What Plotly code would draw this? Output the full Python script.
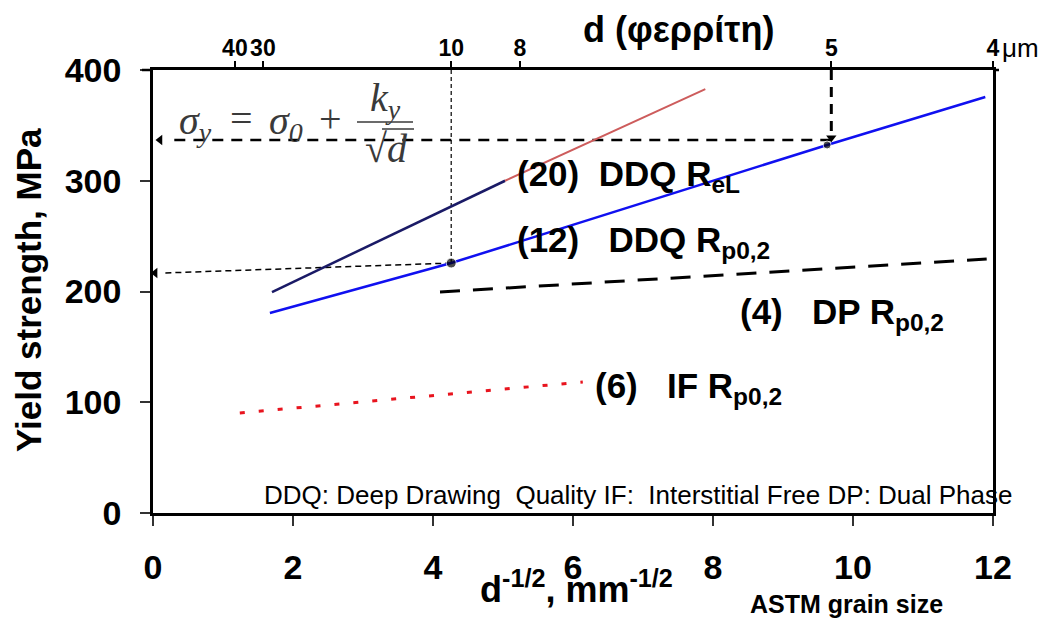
import plotly.graph_objects as go

# ---- data ----
ddq_rel_low_x = [1.70, 5.03]
ddq_rel_low_y = [199.5, 300.0]
ddq_rel_high_x = [5.03, 7.89]
ddq_rel_high_y = [300.0, 382.8]
ddq_rp_x = [1.67, 4.26, 9.63, 11.89]
ddq_rp_y = [180.6, 225.7, 332.3, 375.6]
dp_x = [4.10, 11.91]
dp_y = [199.5, 229.3]
if_x = [1.24, 6.14]
if_y = [90.3, 118.3]
pts_x = [4.26, 9.63]
pts_y = [225.7, 332.3]
pts_size = [10, 8]

x_ticks = [0, 2, 4, 6, 8, 10, 12]
y_ticks = [0, 100, 200, 300, 400]
top_tick_vals = [1.17, 1.57, 4.26, 5.24, 9.69, 12.0]
top_tick_text = ["40", "30", "10", "8", "5", "4"]

# guide lines (read values)
guide_hi_y = 336.8
guide_hi_x0 = 0.10
guide_hi_xv = 9.69
guide_lo_y_end = 216.7
guide_lo_x_end = 0.03

# ---- layout geometry ----
L, R, T, B = 153, 50, 70, 106
W, H = 1043, 619
PW, PH = W - L - R, H - T - B

def px(xp):
    return (xp - L) / PW

def py(yp):
    return (H - B - yp) / PH

FONT = "Liberation Sans, Arial, sans-serif"
SERIF = "Liberation Serif, Times New Roman, serif"

fig = go.Figure()

# dashed guides (drawn first, under lines)
fig.add_trace(go.Scatter(x=[guide_hi_xv, guide_hi_x0 + 0.12], y=[guide_hi_y, guide_hi_y], mode="lines",
                         line=dict(color="black", width=2.5, dash="11px,8px"), hoverinfo="skip"))
fig.add_trace(go.Scatter(x=[guide_hi_xv, guide_hi_xv], y=[400, guide_hi_y + 6], mode="lines",
                         line=dict(color="black", width=3, dash="10px,7px"), hoverinfo="skip"))
fig.add_trace(go.Scatter(x=[pts_x[0], pts_x[0]], y=[400, pts_y[0]], mode="lines",
                         line=dict(color="black", width=1.2, dash="4px,3px"), hoverinfo="skip"))
fig.add_trace(go.Scatter(x=[pts_x[0], guide_lo_x_end + 0.12], y=[pts_y[0], guide_lo_y_end], mode="lines",
                         line=dict(color="black", width=1.5, dash="6px,4px"), hoverinfo="skip"))
# arrow heads
fig.add_trace(go.Scatter(x=[guide_hi_x0, guide_lo_x_end], y=[guide_hi_y, guide_lo_y_end], mode="markers",
                         marker=dict(symbol="triangle-left", size=9, color="black"), hoverinfo="skip"))
fig.add_trace(go.Scatter(x=[guide_hi_xv], y=[guide_hi_y + 2], mode="markers",
                         marker=dict(symbol="triangle-down", size=9, color="black"), hoverinfo="skip"))

# series
fig.add_trace(go.Scatter(x=ddq_rel_low_x, y=ddq_rel_low_y, mode="lines",
                         line=dict(color="#1a1a66", width=2.5)))
fig.add_trace(go.Scatter(x=ddq_rel_high_x, y=ddq_rel_high_y, mode="lines",
                         line=dict(color="#cd5c5c", width=2)))
fig.add_trace(go.Scatter(x=ddq_rp_x, y=ddq_rp_y, mode="lines",
                         line=dict(color="#1010f0", width=2.5)))
fig.add_trace(go.Scatter(x=dp_x, y=dp_y, mode="lines",
                         line=dict(color="black", width=3, dash="20px,13px")))
fig.add_trace(go.Scatter(x=if_x, y=if_y, mode="lines",
                         line=dict(color="#e8141e", width=3, dash="5px,14px")))
fig.add_trace(go.Scatter(x=pts_x, y=pts_y, mode="markers",
                         marker=dict(color="black", size=pts_size)))
# invisible trace on top axis so it renders
fig.add_trace(go.Scatter(x=top_tick_vals, y=[0] * len(top_tick_vals), xaxis="x2", mode="markers",
                         marker=dict(opacity=0), hoverinfo="skip"))

NB = "\u00a0"
ann = []
lab_font = dict(family=FONT, size=35, color="black", weight="bold")
ann.append(dict(x=px(515), y=py(176), xref="paper", yref="paper", text="(20)" + NB * 2 + "DDQ R<sub>eL</sub>",
                showarrow=False, xanchor="left", yanchor="middle", font=lab_font))
ann.append(dict(x=px(515), y=py(242), xref="paper", yref="paper", text="(12)" + NB * 3 + "DDQ R<sub>p0,2</sub>",
                showarrow=False, xanchor="left", yanchor="middle", font=lab_font))
ann.append(dict(x=px(738), y=py(314), xref="paper", yref="paper", text="(4)" + NB * 3 + "DP R<sub>p0,2</sub>",
                showarrow=False, xanchor="left", yanchor="middle", font=lab_font))
ann.append(dict(x=px(593), y=py(388), xref="paper", yref="paper", text="(6)" + NB * 3 + "IF R<sub>p0,2</sub>",
                showarrow=False, xanchor="left", yanchor="middle", font=lab_font))

ann.append(dict(x=px(262), y=py(495), xref="paper", yref="paper",
                text="DDQ: Deep Drawing" + NB * 2 + "Quality IF:" + NB * 2 + "Interstitial Free DP: Dual Phase",
                showarrow=False, xanchor="left", yanchor="middle",
                font=dict(family=FONT, size=26, color="black")))

# equation
eq_col = "#3a3a3a"
eq_it = dict(family=SERIF, size=40, color=eq_col, style="italic")
eq_up = dict(family=SERIF, size=40, color=eq_col)
ann.append(dict(x=px(177), y=py(123), xref="paper", yref="paper",
                text="σ<sub>y</sub>", showarrow=False, xanchor="left", yanchor="middle", font=eq_it))
ann.append(dict(x=px(241), y=py(118), xref="paper", yref="paper",
                text="=", showarrow=False, xanchor="center", yanchor="middle", font=eq_up))
ann.append(dict(x=px(267), y=py(123), xref="paper", yref="paper",
                text="σ<sub>0</sub>", showarrow=False, xanchor="left", yanchor="middle", font=eq_it))
ann.append(dict(x=px(330), y=py(118), xref="paper", yref="paper",
                text="+", showarrow=False, xanchor="center", yanchor="middle", font=eq_up))
ann.append(dict(x=px(385), y=py(100), xref="paper", yref="paper",
                text="k<sub>y</sub>", showarrow=False, xanchor="center", yanchor="middle", font=eq_it))
ann.append(dict(x=px(386), y=py(148), xref="paper", yref="paper",
                text="√<i>d</i>", showarrow=False, xanchor="center", yanchor="middle", font=eq_up))

# axis titles
ann.append(dict(x=px(28), y=py(290), xref="paper", yref="paper", text="Yield strength, MPa",
                textangle=-90, showarrow=False, xanchor="center", yanchor="middle",
                font=dict(family=FONT, size=35, color="black", weight="bold")))
ann.append(dict(x=px(576), y=py(587), xref="paper", yref="paper",
                text="d<sup>-1/2</sup>, mm<sup>-1/2</sup>", showarrow=False, xanchor="center", yanchor="middle",
                font=dict(family=FONT, size=36, color="black", weight="bold")))
ann.append(dict(x=px(846), y=py(604), xref="paper", yref="paper", text="ASTM grain size",
                showarrow=False, xanchor="center", yanchor="middle",
                font=dict(family=FONT, size=25, color="black", weight="bold")))
ann.append(dict(x=px(678), y=py(29), xref="paper", yref="paper", text="d (φερρίτη)",
                showarrow=False, xanchor="center", yanchor="middle",
                font=dict(family=FONT, size=36, color="black", weight="bold")))
ann.append(dict(x=px(1020), y=py(48), xref="paper", yref="paper", text="μm",
                showarrow=False, xanchor="center", yanchor="middle",
                font=dict(family=FONT, size=26, color="black")))

shapes = [
    dict(type="line", xref="paper", yref="paper", x0=px(357), x1=px(413), y0=py(122), y1=py(122),
         line=dict(color=eq_col, width=1.5)),
    dict(type="line", xref="paper", yref="paper", x0=px(382), x1=px(414), y0=py(129), y1=py(129),
         line=dict(color=eq_col, width=1.5)),
    # top axis line stubs beyond the frame
    dict(type="line", xref="paper", yref="paper", x0=px(142), x1=px(153), y0=1, y1=1,
         line=dict(color="black", width=2.5)),
    dict(type="line", xref="paper", yref="paper", x0=px(993), x1=px(999), y0=1, y1=1,
         line=dict(color="black", width=2.5)),
]

fig.update_layout(
    width=W, height=H,
    margin=dict(l=L, r=R, t=T, b=B),
    paper_bgcolor="white", plot_bgcolor="white",
    showlegend=False,
    annotations=ann, shapes=shapes,
    xaxis=dict(range=[0, 12], tickvals=x_ticks, ticks="outside", ticklen=10, tickwidth=1.5,
               tickcolor="#333", showline=True, linewidth=2.5, linecolor="black", mirror=True,
               showgrid=False, zeroline=False, ticklabelstandoff=12,
               tickfont=dict(family=FONT, size=34, color="black", weight="bold")),
    xaxis2=dict(range=[0, 12], overlaying="x", side="top", tickvals=top_tick_vals, ticktext=top_tick_text,
                ticks="outside", ticklen=8, tickwidth=1.5, tickcolor="black", showline=False,
                showgrid=False, zeroline=False, tickangle=0, ticklabelstandoff=-4,
                tickfont=dict(family=FONT, size=23, color="black", weight="bold")),
    yaxis=dict(range=[0, 400], tickvals=y_ticks, ticks="outside", ticklen=10, tickwidth=1.5,
               tickcolor="#333", showline=True, linewidth=2.5, linecolor="black", mirror=True,
               showgrid=False, zeroline=False, ticklabelstandoff=12,
               tickfont=dict(family=FONT, size=34, color="black", weight="bold")),
)

fig.write_html("out.html")
